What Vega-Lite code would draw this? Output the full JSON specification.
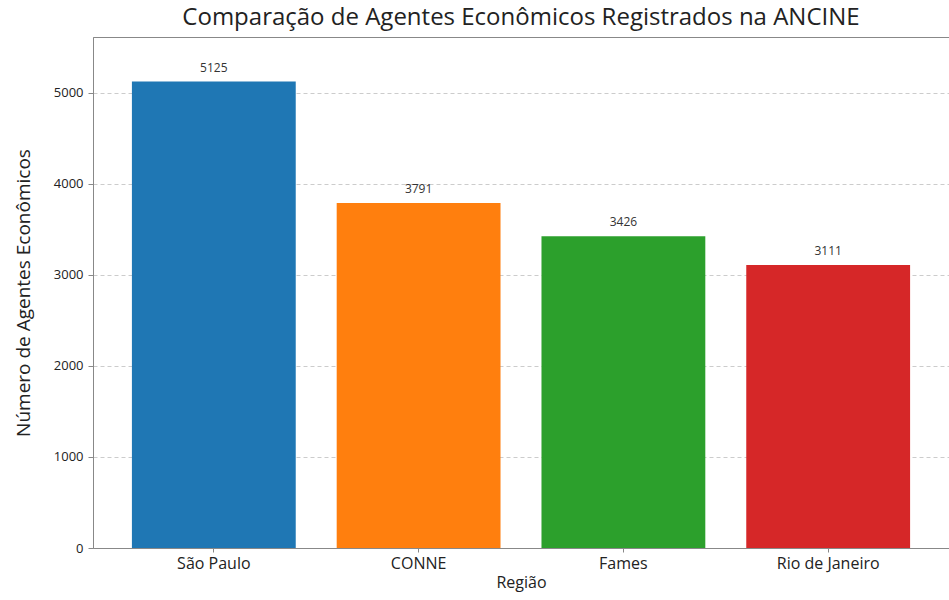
{
  "$schema": "https://vega.github.io/schema/vega-lite/v6.json",
  "width": 856,
  "height": 511,
  "autosize": {"type": "none"},
  "padding": {"left": 93, "top": 37, "right": 0, "bottom": 52},
  "background": "white",
  "title": {
    "text": "Comparação de Agentes Econômicos Registrados na ANCINE",
    "font": "Open Sans",
    "fontSize": 24,
    "fontWeight": "normal",
    "color": "#222222",
    "anchor": "middle",
    "offset": 7
  },
  "config": {
    "view": {"stroke": "#888888", "strokeWidth": 1},
    "font": "Open Sans"
  },
  "data": {
    "values": [
      {"regiao": "São Paulo", "agentes": 5125},
      {"regiao": "CONNE", "agentes": 3791},
      {"regiao": "Fames", "agentes": 3426},
      {"regiao": "Rio de Janeiro", "agentes": 3111}
    ]
  },
  "encoding": {
    "x": {
      "field": "regiao",
      "type": "nominal",
      "sort": null,
      "scale": {"paddingInner": 0.2, "paddingOuter": 0.19},
      "axis": {
        "title": "Região",
        "titleFont": "Open Sans",
        "titleFontSize": 16,
        "titleFontWeight": "normal",
        "titleColor": "#222222",
        "titlePadding": 3,
        "labelAngle": 0,
        "labelFontSize": 16,
        "labelColor": "#222222",
        "labelPadding": 3,
        "domainColor": "#888888",
        "tickColor": "#888888",
        "tickSize": 4
      }
    },
    "y": {
      "field": "agentes",
      "type": "quantitative",
      "scale": {"domain": [0, 5615], "nice": false},
      "axis": {
        "title": "Número de Agentes Econômicos",
        "titleFont": "Open Sans",
        "titleFontSize": 19,
        "titleFontWeight": "normal",
        "titleColor": "#222222",
        "titlePadding": 20,
        "values": [0, 1000, 2000, 3000, 4000, 5000],
        "format": "d",
        "labelFontSize": 13,
        "labelColor": "#222222",
        "labelPadding": 5,
        "domainColor": "#888888",
        "tickColor": "#888888",
        "tickSize": 5,
        "grid": true,
        "gridColor": "#cccccc",
        "gridDash": [4, 3],
        "gridWidth": 1
      }
    }
  },
  "layer": [
    {
      "mark": {"type": "bar"},
      "encoding": {
        "color": {
          "field": "regiao",
          "type": "nominal",
          "sort": null,
          "scale": {
            "domain": ["São Paulo", "CONNE", "Fames", "Rio de Janeiro"],
            "range": ["#1f77b4", "#ff7f0e", "#2ca02c", "#d62728"]
          },
          "legend": null
        }
      }
    },
    {
      "mark": {"type": "text", "baseline": "bottom", "dy": -7, "fontSize": 12, "color": "#333333", "font": "Open Sans"},
      "encoding": {
        "text": {"field": "agentes", "type": "quantitative", "format": "d"}
      }
    }
  ]
}
